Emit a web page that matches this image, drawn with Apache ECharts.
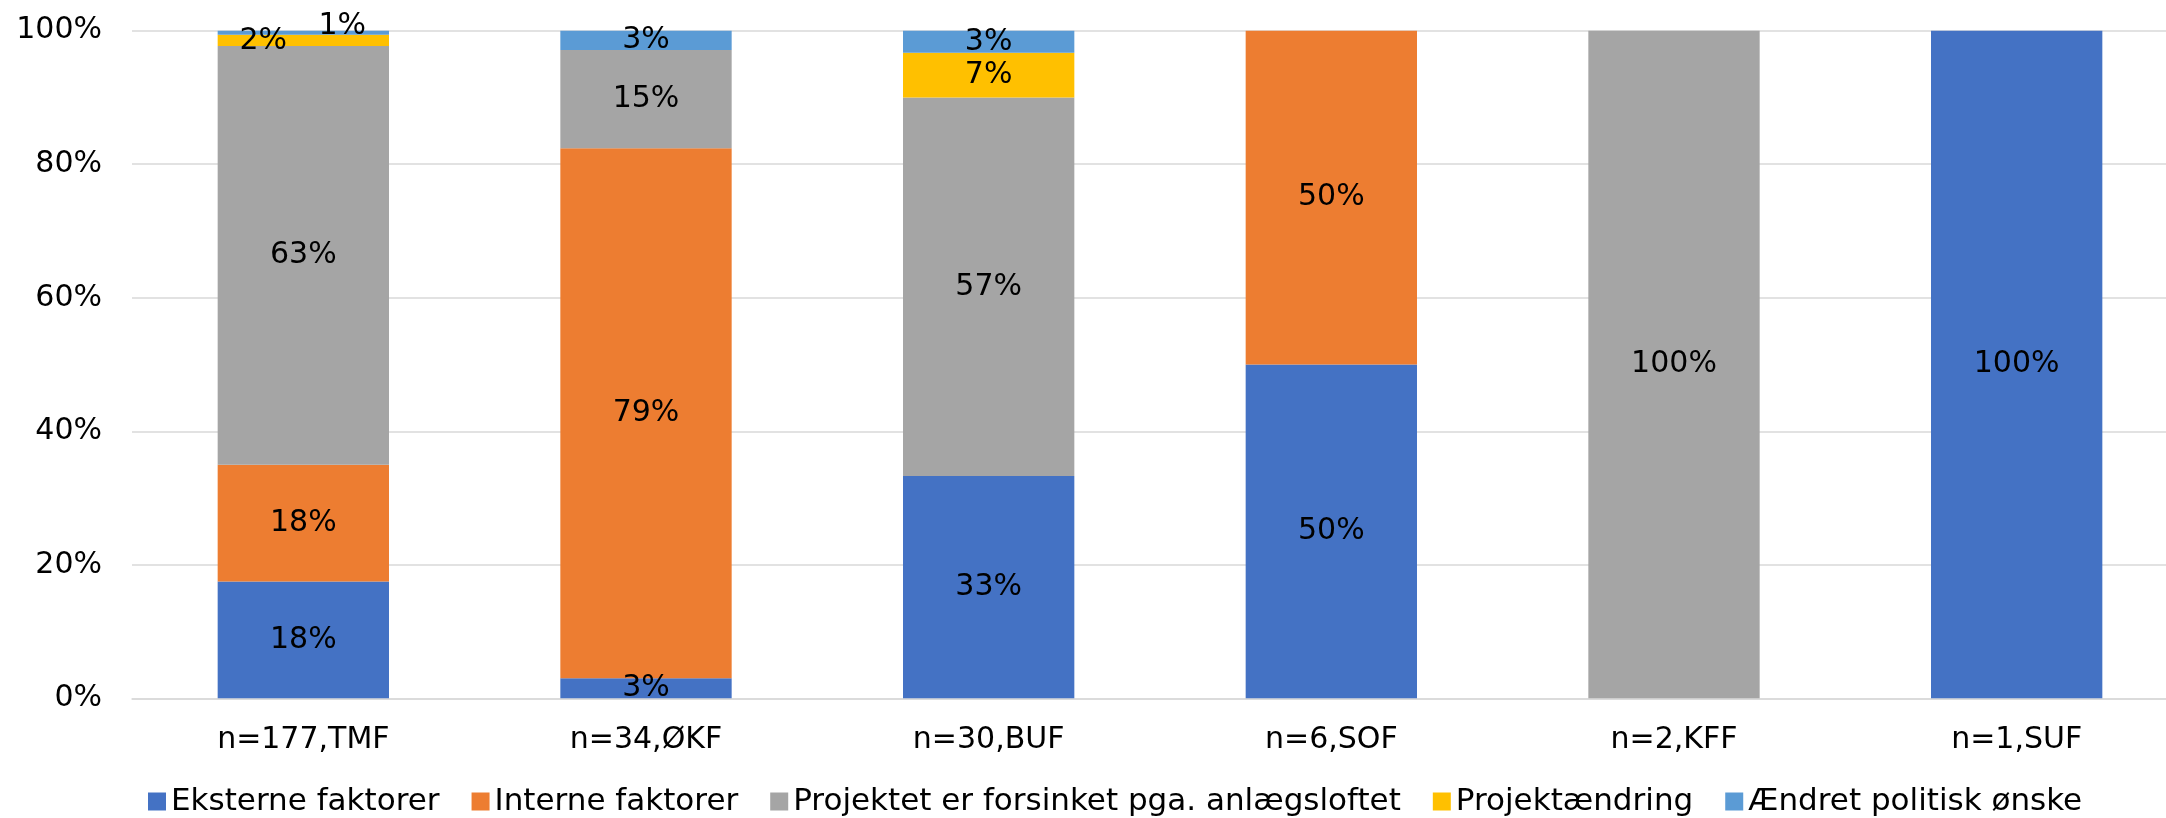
<!DOCTYPE html>
<html>
<head>
<meta charset="utf-8">
<script src="https://cdn.jsdelivr.net/npm/echarts@6/dist/echarts.min.js"></script>
<style>
html,body{margin:0;padding:0;background:#fff;overflow:hidden;width:2166px;height:818px;}
#chart{width:2188px;height:818px;}
</style>
</head>
<body>
<div id="chart"></div>
<script>
const categories = ['n=177,TMF', 'n=34,ØKF', 'n=30,BUF', 'n=6,SOF', 'n=2,KFF', 'n=1,SUF'];
const seriesNames = ['Eksterne faktorer', 'Interne faktorer', 'Projektet er forsinket pga. anlægsloftet', 'Projektændring', 'Ændret politisk ønske'];
const eksterne   = [17.5, 3.0, 33.3, 50, 0, 100];
const interne    = [17.5, 79.4, 0, 50, 0, 0];
const forsinket  = [62.7, 14.7, 56.7, 0, 100, 0];
const aendring   = [1.7, 0, 6.7, 0, 0, 0];
const politisk   = [0.6, 2.9, 3.3, 0, 0, 0];
const yTicks = [0, 20, 40, 60, 80, 100];

const colors = ['#4472C4', '#ED7D31', '#A5A5A5', '#FFC000', '#5B9BD5'];
const FONT = 'DejaVu Sans';

function pctLabel(p) {
  return p.value > 0 ? Math.round(p.value) + '%' : '';
}

function makeSeries(name, data, idx, special) {
  return {
    name: name,
    type: 'bar',
    stack: 'total',
    barWidth: '50%',
    itemStyle: { color: colors[idx] },
    data: data.map(function (v, i) {
      const d = { value: v };
      if (special && special[i]) d.label = special[i];
      return d;
    }),
    label: {
      show: true,
      position: 'inside',
      formatter: pctLabel,
      color: '#000',
      fontFamily: FONT,
      fontSize: 30
    },
    emphasis: { disabled: true }
  };
}

const chart = echarts.init(document.getElementById('chart'), null, { renderer: 'canvas' });
chart.setOption({
  animation: false,
  backgroundColor: '#fff',
  grid: { left: 132, right: 0, top: 30.7, bottom: 119.7, containLabel: false },
  legend: {
    data: seriesNames,
    left: 148,
    top: 786,
    padding: 0,
    itemWidth: 18,
    itemHeight: 18,
    itemGap: 32,
    icon: 'rect',
    textStyle: { fontFamily: FONT, fontSize: 31, color: '#000', lineHeight: 30 }
  },
  xAxis: {
    type: 'category',
    data: categories,
    axisLine: { show: true, lineStyle: { color: '#D9D9D9', width: 1.5 } },
    axisTick: { show: false },
    axisLabel: { margin: 27, fontFamily: FONT, fontSize: 30, color: '#000', lineHeight: 30 }
  },
  yAxis: {
    type: 'value',
    min: yTicks[0],
    max: yTicks[yTicks.length - 1],
    interval: yTicks[1] - yTicks[0],
    axisLine: { show: false },
    axisTick: { show: false },
    splitLine: { lineStyle: { color: '#D9D9D9', width: 1.5 } },
    axisLabel: { margin: 30, fontFamily: FONT, fontSize: 30, color: '#000', formatter: '{value}%' }
  },
  series: [
    makeSeries(seriesNames[0], eksterne, 0),
    makeSeries(seriesNames[1], interne, 1),
    makeSeries(seriesNames[2], forsinket, 2),
    makeSeries(seriesNames[3], aendring, 3, { 0: { offset: [-40, 1] } }),
    makeSeries(seriesNames[4], politisk, 4, { 0: { offset: [39, -6] } })
  ]
});
</script>
</body>
</html>
